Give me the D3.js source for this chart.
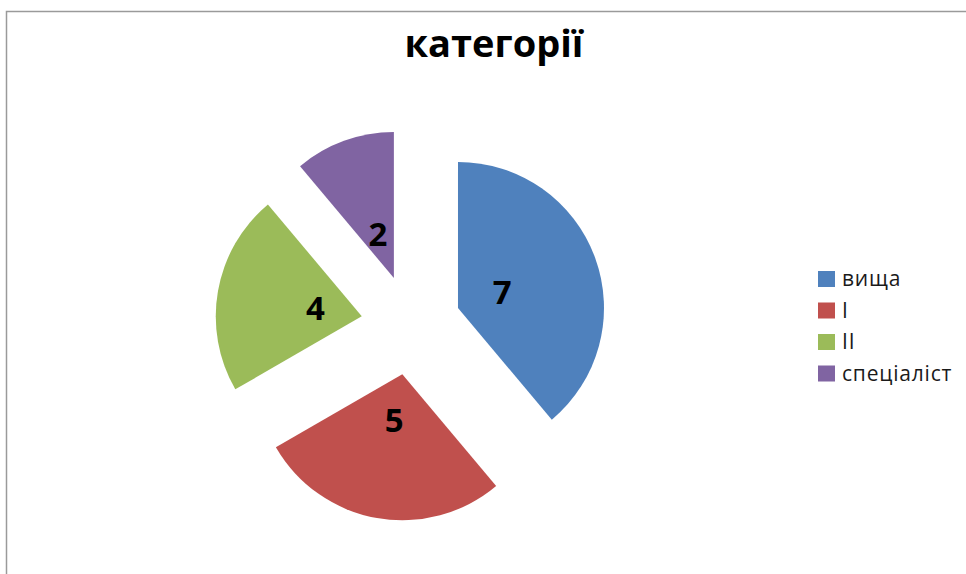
<!DOCTYPE html>
<html>
<head>
<meta charset="utf-8">
<script src="https://cdn.jsdelivr.net/npm/d3@7"></script>
<style>
  body { margin: 0; background: #fff; }
  svg { display: block; font-family: "Open Sans", sans-serif; }
</style>
</head>
<body>
<svg id="chart" width="966" height="574"></svg>
<script>
const categories = ["вища", "I", "II", "спеціаліст"];
const values = [7, 5, 4, 2];
const colors = ["#4F81BD", "#C0504D", "#9BBB59", "#8064A2"];
const title = "категорії";

const svg = d3.select("#chart");

// chart frame (only top and left edges are visible in the picture)
svg.append("rect")
  .attr("x", 6.5).attr("y", 11.5)
  .attr("width", 1000).attr("height", 700)
  .attr("fill", "none")
  .attr("stroke", "#9a9a9a")
  .attr("stroke-width", 1.5);

svg.append("text")
  .attr("x", 494).attr("y", 57)
  .attr("text-anchor", "middle")
  .attr("font-size", 38)
  .attr("font-weight", "bold")
  .attr("fill", "#000")
  .text(title);

const cx = 411, cy = 325, radius = 146, explode = 50;

const pie = d3.pie().sort(null).value((d) => d.value);
const arcs = pie(categories.map((c, i) => ({ name: c, value: values[i], color: colors[i] })));

const arc = d3.arc().innerRadius(0).outerRadius(radius);
const labelArc = d3.arc().innerRadius(47).outerRadius(47);

// offset of each slice along its middle angle
const shift = (d, dist) => {
  const a = (d.startAngle + d.endAngle) / 2;
  return [Math.sin(a) * dist, -Math.cos(a) * dist];
};

const g = svg.append("g").attr("transform", `translate(${cx},${cy})`);

const slice = g.selectAll("g.slice")
  .data(arcs)
  .join("g")
  .attr("class", "slice")
  .attr("transform", (d) => `translate(${shift(d, explode)})`);

slice.append("path")
  .attr("d", arc)
  .attr("fill", (d) => d.data.color);

slice.append("text")
  .attr("transform", (d) => `translate(${labelArc.centroid(d)})`)
  .attr("text-anchor", "middle")
  .attr("dy", "0.36em")
  .attr("font-size", 33)
  .attr("font-weight", "bold")
  .attr("fill", "#000")
  .text((d) => d.data.value);

// legend
const legend = svg.append("g").attr("transform", "translate(818,271)");
const row = legend.selectAll("g")
  .data(categories)
  .join("g")
  .attr("transform", (d, i) => `translate(0,${i * 31.5})`);

row.append("rect")
  .attr("width", 17).attr("height", 16)
  .attr("fill", (d, i) => colors[i]);

row.append("text")
  .attr("x", 24).attr("y", 8)
  .attr("dy", "0.35em")
  .attr("font-size", 21)
  .attr("letter-spacing", 0.8)
  .attr("fill", "#1a1a1a")
  .text((d) => d);
</script>
</body>
</html>
